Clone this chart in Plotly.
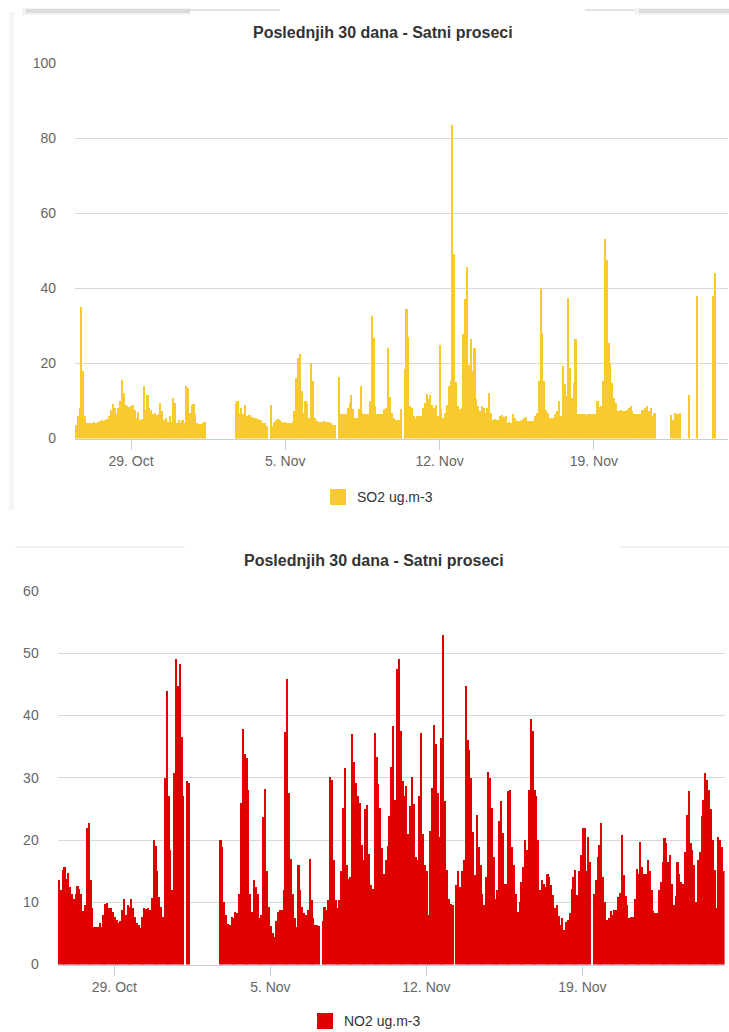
import pandas as pd
import plotly.graph_objects as go

W, H = 729, 1032

# Two-hour averages starting 26 Oct 11:00, one row per day (12 values)
START = "2021-10-26 11:00"

so2 = [
    3.5, 6, 8, 35, 18, 6, 4.2, 4.2, 4.0, 4.2, 4.3, 4.2,
    4.5, 4.6, 4.8, 4.6, 5.0, 5.2, 6.0, 7.7, 9.3, 8.0, 6.4, 8.0,
    10, 15.7, 12, 9, 8.6, 8.4, 8.6, 9, 7.5, 5.5, 7, 5,
    5.2, 14, 7.7, 11.7, 8, 7.7, 6.5, 6.8, 6.2, 6.5, 9.5, 7.3,
    5, 5.5, 4.5, 6, 4.5, 10.8, 9.5, 4.2, 5, 4.2, 5, 4.2,
    14, 13.5, 6.8, 9, 9.3, 6.4, 4.2, 3.8, 3.8, 4.2, 4.3, None,
    None, None, None, None, None, None, None, None, None, None, None, None,
    None, None, None, 9.5, 10, 6.8, 8.2, 6.4, 9, 6, 6.2, 6.2,
    5.8, 5.5, 5.5, 5.3, 5, 4.8, 4.2, 4, 3.3, None, 9, 3.3,
    4.4, 4.8, 5.2, 4.8, 4.4, 4.2, 4.3, 4.2, 4.1, 4.2, 4.3, 7.3,
    16, 21.5, 22.4, 12.7, 6.9, 10, 9.5, 5.5, 20, 15.3, 5.5, 4.6,
    4.5, 4.4, 4.5, 4.6, 4.5, 4.3, 4.4, 4.2, 3.7, 3.7, None, 16.4,
    6.4, 6.4, 6.4, 6.4, 8.2, 9.5, 11.5, 7.8, 5.5, 5.5, 7.8, 14,
    6.9, 6.4, 6.4, 6.4, 10, 32.7, 26.7, 8.6, 6.4, 6.4, 6.4, 6.4,
    7.8, 8, 24, 11, 6.9, 5.5, 5, 5, 5, 7.8, None, 18.4,
    34.5, 27, 8.6, 8.2, 6, 5.5, 6, 6, 6, 8.2, 9.5, 11.8,
    10.4, 11.5, 9, 8.2, 9, 6, 25, 7.8, 5.5, 6.9, 9, 14,
    15.3, 83.5, 49.2, 15, 8.6, 7.8, 8.2, 27.8, 37.2, 45.8, 19.5, 26.6,
    18, 24, 10.4, 8.6, 7.3, 8.6, 8.2, 6.9, 8.2, 12.2, 6.9, 5,
    5.2, 4.8, 5, 6, 6.2, 5.8, 6, 4.2, 4.3, 4.2, 6.6, 5.5,
    4.6, 4.6, 4.6, 5, 5.5, 5.8, 4.6, 4.6, 4.6, 4.6, 6, 6.9,
    15.3, 40, 28.2, 15.3, 7.7, 6.8, 5.5, 5.5, 5.5, 6.4, 7.3, 10,
    6, 19.3, 14.4, 11.3, 37.3, 18.8, 10.8, 14.8, 26.4, 6.4, 6.4, 6.4,
    6.4, 6.5, 6.3, 6.4, 6.4, 6.5, 6.4, 6.4, 10, 8.4, 8.6, 15.3,
    53, 47.5, 25.5, 20.2, 14.8, 10.8, 9.5, 7.3, 7.3, 7.5, 7.2, 7.3,
    7.7, 8.2, 8.6, 7.3, 6.4, 6.4, 6.4, 6.4, 7.7, 7.5, 8.2, 8.6,
    7.3, 8.2, 6, 6.8, None, None, None, None, None, None, None, None,
    6.2, 5, 6.8, 6.4, 6.5, 6.8, None, None, None, None, 11.5, None,
    None, None, 38, None, None, None, None, None, None, None, None, 38,
    44.2, None, None, None, None, None, None, None, None, None, None, None,
]

no2 = [
    13.5, 12, 15.2, 15.6, 13.8, 14.7, 12.5, 11.4, 10.6, 11.4, 12.6, 12.2,
    11.4, 8.6, 9.5, 21.9, 22.8, 13.6, 9, 6, 6, 6, 6.6, 6,
    8, 9.8, 9.9, 9, 9, 8.5, 7.7, 7.1, 6.6, 7, 8.8, 10.6,
    7.9, 9.5, 9.3, 10.5, 9, 7.7, 6.6, 6.3, 5.8, 7.7, 9, 8.9,
    9, 8.7, 10.7, 20, 19, 15, 10.9, 9.3, 7.7, 30, 44, 27,
    18.4, 12, 30.8, 49, 44.8, 48.3, 36.5, 27, None, 29.5, 29.2, None,
    None, None, None, None, None, None, None, None, None, None, None, None,
    None, None, None, 20, 18.9, 10, 7.9, 6.5, 6.3, 7.7, 7.4, 8.5,
    8.2, 11.4, 26, 37.8, 33.8, 33.2, 28, 11.4, 8.5, 13.6, 12.5, 11.4,
    7.5, 7.9, 23.7, 28.2, 15, 9.3, 6.2, 5, 4.4, 7, 8.5, 8.7,
    8.7, 12, 37.3, 45.9, 27.6, 17, 11.4, 7.5, 6, 16, 12, 9.2,
    8.2, 7.9, 8.7, 17, 10.3, 7.5, 6.3, 6.3, 6.2, None, 7, 9.2,
    8.8, 10.3, 30.2, 29.7, 16.8, 10.3, 9, 10.3, 15, 25.1, 31.6, 16,
    13.8, 14, 37.1, 32.5, 29.1, 27, 26, 19.2, 16.8, 25, 25.6, 17.8,
    12.7, 12.2, 37.2, 33.4, 29, 25.1, 18.7, 14.5, 16.8, 19, 23.8, 31.8,
    38.3, 26.5, 47.4, 49, 37.5, 29.4, 27, 28.6, 21, 25.4, 30.2, 25.8,
    17.3, 16.8, 27, 37.2, 21, 16, 15, 7.9, 21.5, 28.3, 38.5, 35.5,
    27.5, 20.5, 36.4, 53, 26.2, 15.2, 10.5, 9.8, 9.5, None, 12.7, 15,
    12.5, 15, 16.8, 44.7, 36, 34.5, 30, 21.3, 14.4, 24, 18.9, 16,
    11.4, 9.5, 14, 31, 30, 25.1, 17.3, 10.5, 11.9, 23, 26.2, 21.1,
    13, 13, 27.8, 28, 18.9, 16, 11.4, 8.4, 10, 13.3, 15.7, 20,
    18.4, 28, 39.4, 37.5, 28, 27, 20, 12, 13.5, 13, 12.5, 14.6,
    14, 12.7, 11.1, 9, 9.5, 7.8, 6.3, 7.4, 5.5, 6.8, 7.1, 8.2,
    12.2, 14, 15.2, 11.1, 15, 17.6, 22, 21.9, 15, 20.5, 16.5, None,
    11.4, 13.5, 17.3, 19.2, 22.7, 14.1, 10, 7.1, 7.4, 8.6, 7.9, 8.7,
    8.7, 10.9, 11.5, 20.8, 14.4, 11, 9.5, 7.5, 7.6, 7.6, 10.5, 15.4,
    14.6, 19.7, 15.7, 14.5, 14.6, 16.8, 15, 11.9, 8.6, 8.2, 8.2, 12,
    13.3, 16.5, 20.3, 19.5, 16.5, 17.6, 13, 9.5, 11, 16.5, 14.6, 13.3,
    13, 18.1, 24, 27.8, 19.5, 18.4, 16, 10, 16.8, 18, 23.8, 26.5,
    30.8, 29.7, 28.1, 25, 20, 15.2, 9, 20.5, 20, 18.9, 15, 18.4,
]

tick_dates = ["2021-10-29", "2021-11-05", "2021-11-12", "2021-11-19"]
tick_labels = ["29. Oct", "5. Nov", "12. Nov", "19. Nov"]

title_text = "Poslednjih 30 dana - Satni proseci"
so2_name = "SO2 ug.m-3"
no2_name = "NO2 ug.m-3"

SO2_COLOR = "#f8ca2e"
NO2_COLOR = "#df0000"
TEXT_FONT = "Liberation Sans Narrow, Arial Narrow, Liberation Sans, Arial, sans-serif"

times = pd.date_range(START, periods=len(so2), freq="2h") + pd.Timedelta(hours=1)
# columns slightly wider than the 2 h step so neighbours overlap without seams
bar_ms = 2 * 3600 * 1000 * 1.15


def px(x):
    return x / W


def py(y):
    return 1 - y / H


fig = go.Figure()
fig.add_trace(go.Bar(x=times, y=so2, width=bar_ms, marker=dict(color=SO2_COLOR, line=dict(width=0)),
                     name=so2_name, xaxis="x", yaxis="y", showlegend=False))
fig.add_trace(go.Bar(x=times, y=no2, width=bar_ms, marker=dict(color=NO2_COLOR, line=dict(width=0)),
                     name=no2_name, xaxis="x2", yaxis="y2", showlegend=False))

xcommon = dict(
    type="date", tickvals=tick_dates, ticktext=tick_labels, automargin=False,
    showgrid=False, zeroline=False, showline=True, linecolor="#c0d0e0", linewidth=1,
    ticks="outside", ticklen=10, tickcolor="#c0d0e0", tickwidth=1,
    tickfont=dict(family=TEXT_FONT, size=14, color="#666666"),
    fixedrange=True,
)
ycommon = dict(
    showgrid=True, gridcolor="#d8d8d8", gridwidth=1, zeroline=False, showline=False,
    ticks="", tickfont=dict(family=TEXT_FONT, size=14, color="#666666"), automargin=False,
    fixedrange=True,
)

fig.update_layout(
    width=W, height=H, margin=dict(l=0, r=0, t=0, b=0, pad=0, autoexpand=False),
    paper_bgcolor="white", plot_bgcolor="white",
    bargap=0, barmode="overlay", showlegend=False,
    xaxis=dict(xcommon, domain=[px(75), px(728)], anchor="y",
               range=["2021-10-26 11:00", "2021-11-25 02:05"]),
    yaxis=dict(ycommon, domain=[py(438.5), py(63)], anchor="x",
               range=[0, 100], tickvals=[0, 20, 40, 60, 80, 100], ticklabelstandoff=18),
    xaxis2=dict(xcommon, domain=[px(57.7), px(724.6)], anchor="y2",
                range=["2021-10-26 11:00", "2021-11-25 09:05"]),
    yaxis2=dict(ycommon, domain=[py(964.5), py(591)], anchor="x2",
                range=[0, 60], tickvals=[0, 10, 20, 30, 40, 50, 60], ticklabelstandoff=18),
)

shapes = []
annotations = []

# card edges and the shadow strip above the first chart
shapes.append(dict(type="rect", xref="paper", yref="paper", x0=px(9), x1=px(14), y0=py(510), y1=py(12),
                   fillcolor="#f5f5f5", line=dict(width=0), layer="below"))
for x0, x1 in [(22, 190), (635, 729)]:
    shapes.append(dict(type="rect", xref="paper", yref="paper", x0=px(x0), x1=px(x1), y0=py(15), y1=py(8),
                       fillcolor="rgba(0,0,0,0.05)", line=dict(width=0)))
    shapes.append(dict(type="rect", xref="paper", yref="paper", x0=px(x0 + 4), x1=px(x1), y0=py(13), y1=py(9),
                       fillcolor="rgba(0,0,0,0.09)", line=dict(width=0)))
for x0, x1 in [(190, 280), (585, 635)]:
    shapes.append(dict(type="line", xref="paper", yref="paper", x0=px(x0), x1=px(x1), y0=py(10), y1=py(10),
                       line=dict(color="#c8c8c8", width=1)))
for x0, x1 in [(15, 185), (620, 729)]:
    shapes.append(dict(type="line", xref="paper", yref="paper", x0=px(x0), x1=px(x1), y0=py(547), y1=py(547),
                       line=dict(color="#f2f2f2", width=2)))

# titles
for cx, cy in [(383.5, 32), (373.5, 560)]:
    annotations.append(dict(text=title_text, xref="paper", yref="paper", x=px(cx), y=py(cy),
                            xanchor="center", yanchor="middle", showarrow=False,
                            font=dict(family=TEXT_FONT, size=16, color="#333333", weight="bold")))

# legends
for (sx, sy, name, color) in [(330, 489, so2_name, SO2_COLOR), (317, 1013, no2_name, NO2_COLOR)]:
    shapes.append(dict(type="rect", xref="paper", yref="paper", x0=px(sx), x1=px(sx + 16),
                       y0=py(sy + 16), y1=py(sy), fillcolor=color, line=dict(width=0)))
    annotations.append(dict(text=name, xref="paper", yref="paper", x=px(sx + 25), y=py(sy + 8),
                            xanchor="left", yanchor="middle", showarrow=False,
                            font=dict(family=TEXT_FONT, size=14, color="#333333")))

fig.update_layout(shapes=shapes, annotations=annotations)
fig.write_html("out.html")
